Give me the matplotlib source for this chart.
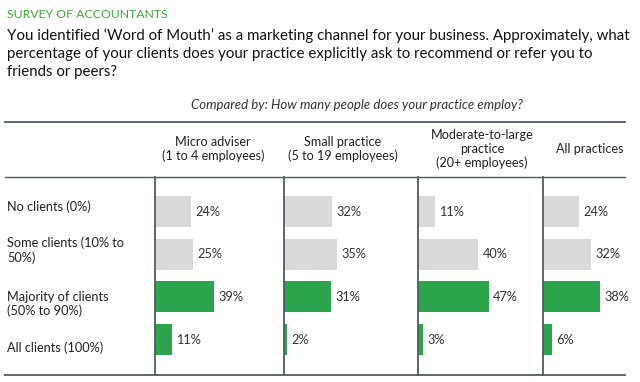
import matplotlib
matplotlib.use("Agg")
import matplotlib.pyplot as plt
from matplotlib.lines import Line2D

plt.rcParams['font.family'] = ['Lato', 'DejaVu Sans']

rows = ['No clients (0%)', 'Some clients (10% to\n50%)',
        'Majority of clients\n(50% to 90%)', 'All clients (100%)']
groups = ['Micro adviser\n(1 to 4 employees)', 'Small practice\n(5 to 19 employees)',
          'Moderate-to-large\npractice\n(20+ employees)', 'All practices']
micro = [24, 25, 39, 11]
small = [32, 35, 31, 2]
moderate = [11, 40, 47, 3]
all_practices = [24, 32, 38, 6]
values = [micro, small, moderate, all_practices]

W, H = 640, 382
grey = '#d9d9d9'
green = '#2ba44b'
line_col = '#4d5c66'
text_col = '#222222'

fig = plt.figure(figsize=(6.4, 3.82), dpi=100)

def fx(px):
    return px / W

def fy(py):
    return 1 - py / H

# headings
fig.text(fx(7), fy(15), 'SURVEY OF ACCOUNTANTS', color='#3aaa35', fontsize=8.8, va='center')
question = ("You identified \u2018Word of Mouth\u2019 as a marketing channel for your business. Approximately, what\n"
            "percentage of your clients does your practice explicitly ask to recommend or refer you to\n"
            "friends or peers?")
fig.text(fx(7), fy(28), question, color='#111111', fontsize=10.8, va='top', linespacing=1.38)
fig.text(fx(357), fy(105), 'Compared by: How many people does your practice employ?',
         style='italic', color='#333333', fontsize=9.5, ha='center', va='center')

# panel layout in pixels
col_x = [155, 284, 418, 543, 625]
top, bottom = 177, 375
scale = 1.5  # px per percent
head_x = [213, 343, 482, 590]

for i, vals in enumerate(values):
    left, right = col_x[i], col_x[i + 1]
    ax = fig.add_axes([fx(left), fy(bottom), fx(right - left), (bottom - top) / H])
    ax.barh(range(len(vals)), vals, height=0.73,
            color=[grey, grey, green, green], zorder=2)
    for j, v in enumerate(vals):
        ax.text(v + 3, j, f'{v}%', va='center', ha='left', fontsize=9.2, color='#333333')
    ax.set_xlim(0, (right - left) / scale)
    ax.set_ylim(3.83, -0.81)
    ax.axis('off')
    fig.add_artist(Line2D([fx(left), fx(left)], [fy(top), fy(bottom)], color=line_col, lw=1.3))
    fig.text(fx(head_x[i]), fy(149), groups[i], ha='center', va='center',
             fontsize=9.1, color=text_col, linespacing=1.2)

row_y = [207, 250, 304, 348]
for lab, y in zip(rows, row_y):
    fig.text(fx(7), fy(y), lab, ha='left', va='center', fontsize=9.2,
             color=text_col, linespacing=1.2)

for y in [122, 177, 375]:
    lw = 1.0 if y == 177 else 1.3
    fig.add_artist(Line2D([fx(5), fx(625)], [fy(y), fy(y)], color=line_col, lw=lw))

fig.savefig('out.png', dpi=100)
